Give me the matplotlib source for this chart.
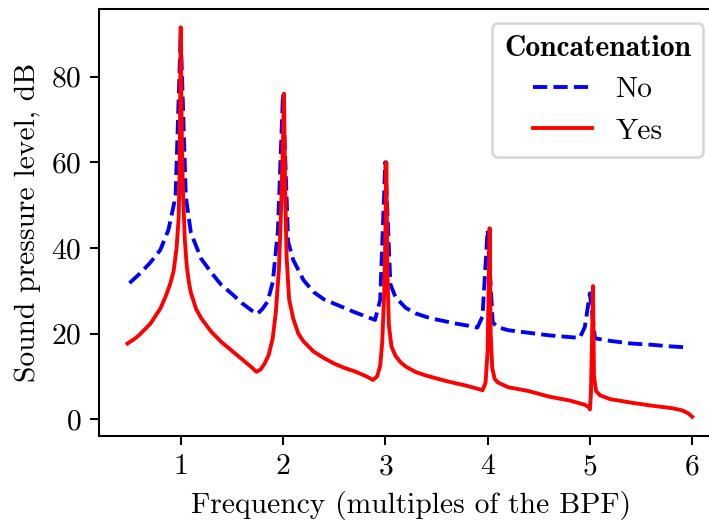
import matplotlib
matplotlib.use('Agg')
import matplotlib.pyplot as plt

# values
freqNo = [0.5, 0.6, 0.7, 0.8, 0.88, 0.95, 1.0, 1.05, 1.1, 1.2, 1.3, 1.4, 1.5,
          1.6, 1.7, 1.75, 1.8, 1.85, 1.9, 1.95, 2.0, 2.05, 2.1, 2.2, 2.3, 2.4,
          2.5, 2.6, 2.7, 2.8, 2.9, 2.95, 3.0, 3.05, 3.1, 3.2, 3.3, 3.4, 3.5,
          3.6, 3.7, 3.8, 3.9, 3.95, 4.0, 4.05, 4.1, 4.2, 4.4, 4.6, 4.8, 4.9,
          4.95, 5.0, 5.05, 5.2, 5.4, 5.6, 5.8, 5.95]
splNo = [31.8, 34.0, 36.5, 39.5, 44.2, 52.0, 90.0, 52.0, 43.5, 37.5, 34.2,
         31.3, 29.3, 27.1, 25.3, 24.6, 25.8, 27.5, 32.0, 44.0, 76.0, 41.5,
         37.2, 32.5, 29.7, 28.0, 27.0, 26.0, 25.0, 24.1, 23.2, 27.9, 60.0,
         31.5, 28.5, 26.0, 24.7, 23.9, 23.3, 22.8, 22.3, 21.9, 21.4, 24.0,
         44.2, 22.6, 21.5, 20.8, 20.2, 19.6, 19.2, 19.0, 21.5, 29.4, 18.9,
         18.3, 17.7, 17.4, 17.0, 16.8]

freqYes = [0.48, 0.55, 0.6, 0.7, 0.8, 0.85, 0.9, 0.93, 0.96, 0.98, 0.99, 1.0,
           1.01, 1.02, 1.04, 1.06, 1.08, 1.1, 1.15, 1.2, 1.3, 1.4, 1.5, 1.6,
           1.7, 1.74, 1.78, 1.82, 1.86, 1.9, 1.93, 1.96, 1.98, 2.0, 2.01,
           2.02, 2.035, 2.06, 2.1, 2.15, 2.2, 2.3, 2.4, 2.5, 2.6, 2.7, 2.8,
           2.88, 2.92, 2.95, 2.97, 2.99, 3.0, 3.01, 3.02, 3.035, 3.06, 3.1,
           3.15, 3.2, 3.3, 3.4, 3.6, 3.8, 3.95, 3.98, 4.0, 4.01, 4.02, 4.03,
           4.045, 4.07, 4.1, 4.2, 4.4, 4.6, 4.8, 4.95, 4.99, 5.0, 5.01, 5.02,
           5.03, 5.04, 5.06, 5.1, 5.2, 5.4, 5.6, 5.8, 5.9, 5.96, 6.0]
splYes = [17.7, 18.8, 19.8, 22.2, 25.8, 28.5, 31.8, 34.5, 40.0, 47.0, 58.0,
          91.5, 68.0, 55.0, 42.0, 35.6, 32.0, 29.5, 25.8, 23.6, 20.4, 18.0,
          16.0, 14.0, 12.0, 11.1, 11.6, 13.0, 15.0, 19.0, 25.0, 35.0, 48.0,
          65.0, 76.0, 55.0, 38.0, 28.0, 23.5, 20.0, 18.2, 15.8, 14.3, 13.0,
          12.0, 11.2, 10.2, 9.2, 10.0, 12.5, 18.0, 30.0, 42.0, 60.0, 35.0,
          22.0, 17.0, 14.8, 13.3, 12.3, 11.0, 10.2, 8.9, 7.8, 6.8, 8.5, 16.0,
          30.0, 44.6, 20.0, 12.0, 9.4, 8.6, 7.5, 6.6, 5.3, 4.4, 3.4, 2.8, 2.3,
          6.0, 18.0, 31.1, 10.0, 6.6, 5.6, 4.7, 3.9, 3.2, 2.6, 2.1, 1.4, 0.6]

xTicks = [1, 2, 3, 4, 5, 6]
yTicks = [0, 20, 40, 60, 80]

plt.rcParams['font.family'] = 'serif'
plt.rcParams['font.serif'] = ['cmr10']
plt.rcParams['mathtext.fontset'] = 'cm'
plt.rcParams['axes.formatter.use_mathtext'] = True
plt.rcParams['font.size'] = 11.5

dpi = 185
figure = plt.figure(figsize=(709/dpi, 520/dpi), dpi=dpi)
axes = figure.add_axes([0.140, 0.1615, 0.8796, 0.8206])

axes.plot(freqNo, splNo, '--', color='blue', label='No')
axes.plot(freqYes, splYes, '-', color='red', label='Yes')

axes.set_xlim(0.204, 6.3)
axes.set_ylim(-3.9, 95.7)
axes.set_xticks(xTicks)
axes.set_yticks(yTicks)
axes.set_xlabel('Frequency (multiples of the BPF)')
axes.set_ylabel('Sound pressure level, dB')

axes.legend(title='Concatenation', title_fontproperties={'family': 'cmb10'},
            loc='upper right', bbox_to_anchor=(703/709, 1 - 23/520),
            bbox_transform=figure.transFigure, borderaxespad=0)

figure.savefig('out.png', dpi=dpi)
